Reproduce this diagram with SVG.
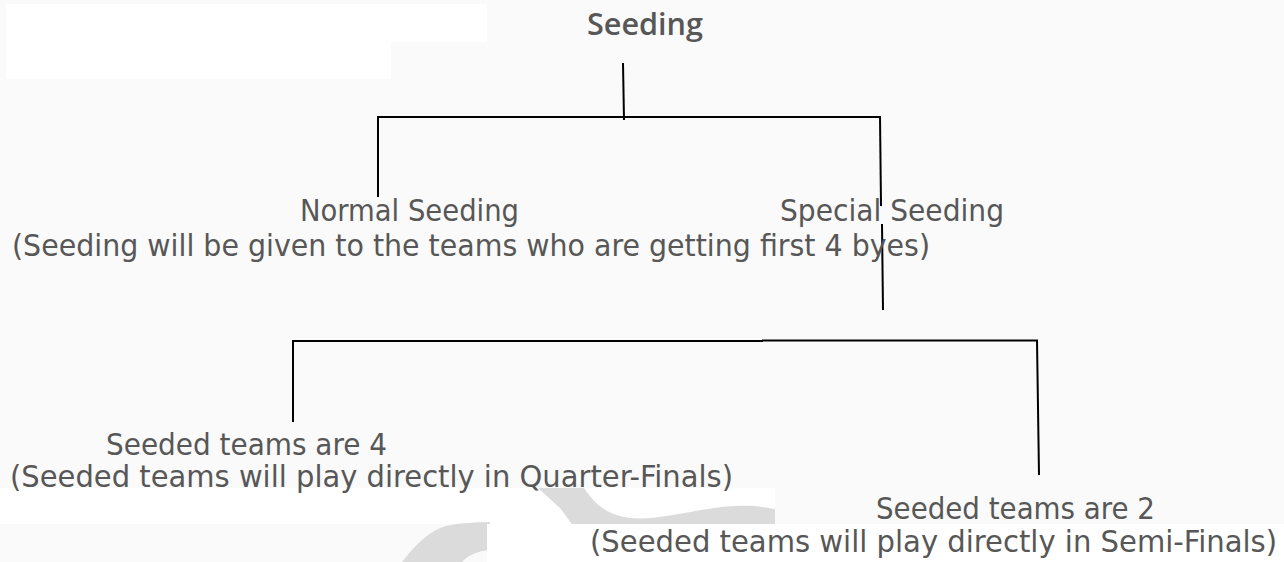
<svg xmlns="http://www.w3.org/2000/svg" width="1284" height="562" viewBox="0 0 1284 562">
  <style>
    .lbl { font-family: "DejaVu Sans Condensed", "DejaVu Sans", sans-serif; font-stretch: condensed; font-size: 30px; fill: #575757; }
    .title { font-family: "Open Sans", "Liberation Sans", sans-serif; font-weight: 600; font-size: 30px; fill: #575757; }
    .wire { stroke: #000; stroke-width: 2; fill: none; stroke-linecap: butt; }
    .mark { fill: #dbdbdb; }
  </style>
  <defs>
    <clipPath id="markClip">
      <rect x="0" y="488" width="775" height="74"/>
    </clipPath>
  </defs>

  <!-- page background and text panels -->
  <rect x="0" y="0" width="1284" height="562" fill="#fafafa"/>
  <rect x="6" y="4" width="481" height="38" fill="#ffffff"/>
  <rect x="6" y="42" width="385" height="37" fill="#ffffff"/>
  <rect x="0" y="488" width="775" height="36" fill="#ffffff"/>

  <!-- faint watermark swoosh -->
  <g id="watermark" clip-path="url(#markClip)">
    <path class="mark" d="M538,488 L584,488 C594,503 606,515 630,518 C662,521 695,508 735,506 C752,505 766,507 780,510 L780,562 L600,562 L560,508 Z"/>
    <path class="mark" d="M402,562 C415,545 430,530 446,526 C460,523 475,522 490,522 L490,562 Z"/>
    <path fill="#fafafa" d="M462,562 C468,555 478,551 490,550 L490,562 Z"/>
  </g>
  <rect x="487" y="524" width="797" height="38" fill="#ffffff"/>

  <!-- connectors -->
  <g id="connectors">
    <line class="wire" x1="623" y1="63" x2="624" y2="120"/>
    <line class="wire" x1="377" y1="117" x2="881" y2="117"/>
    <line class="wire" x1="378" y1="116" x2="378" y2="197"/>
    <line class="wire" x1="880" y1="116" x2="881" y2="206"/>
    <line class="wire" x1="882" y1="224" x2="883" y2="310"/>
    <line class="wire" x1="292" y1="341" x2="763" y2="341"/>
    <line class="wire" x1="762" y1="340.5" x2="1038" y2="340.5"/>
    <line class="wire" x1="293" y1="340" x2="293" y2="422"/>
    <line class="wire" x1="1037" y1="340" x2="1039" y2="475"/>
  </g>

  <!-- nodes -->
  <g id="root">
    <text class="title" x="587" y="35" textLength="116" lengthAdjust="spacingAndGlyphs">Seeding</text>
  </g>
  <g id="normal-seeding">
    <text class="lbl" x="300" y="221" textLength="219" lengthAdjust="spacingAndGlyphs">Normal Seeding</text>
    <text class="lbl" x="12" y="256" textLength="918" lengthAdjust="spacingAndGlyphs">(Seeding will be given to the teams who are getting first 4 byes)</text>
  </g>
  <g id="special-seeding">
    <text class="lbl" x="780" y="221" textLength="224" lengthAdjust="spacingAndGlyphs">Special Seeding</text>
  </g>
  <g id="seeded-four">
    <text class="lbl" x="106" y="455" textLength="281" lengthAdjust="spacingAndGlyphs">Seeded teams are 4</text>
    <text class="lbl" x="10" y="487" textLength="723" lengthAdjust="spacingAndGlyphs">(Seeded teams will play directly in Quarter-Finals)</text>
  </g>
  <g id="seeded-two">
    <text class="lbl" x="876" y="519" textLength="279" lengthAdjust="spacingAndGlyphs">Seeded teams are 2</text>
    <text class="lbl" x="590" y="552" textLength="687" lengthAdjust="spacingAndGlyphs">(Seeded teams will play directly in Semi-Finals)</text>
  </g>
</svg>
